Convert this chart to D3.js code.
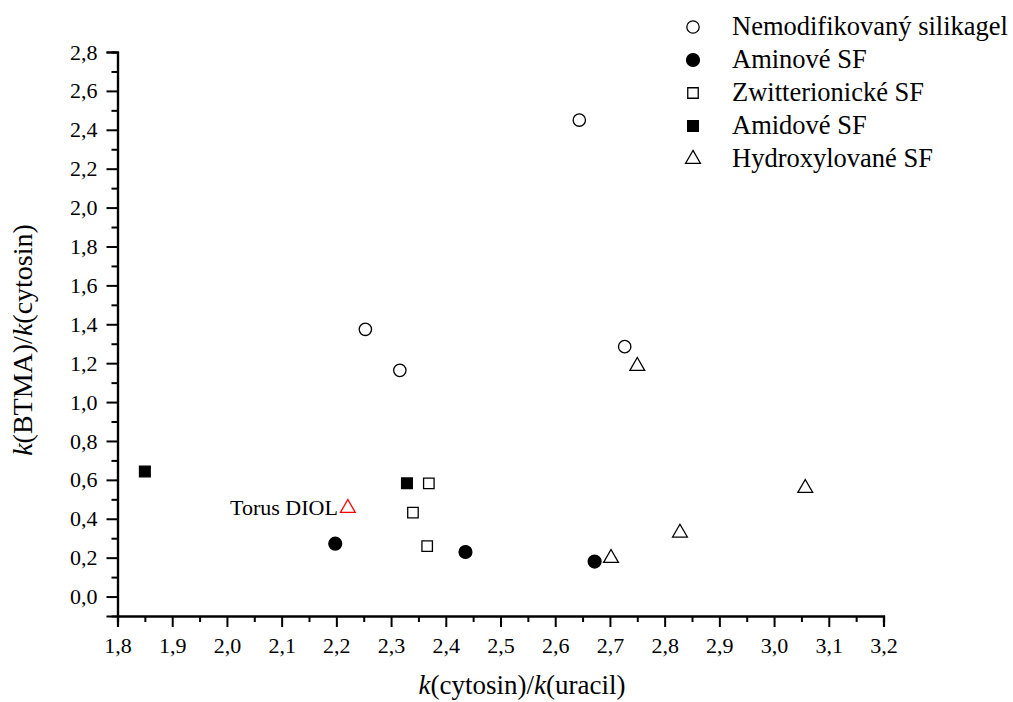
<!DOCTYPE html>
<html>
<head>
<meta charset="utf-8">
<script src="https://cdn.jsdelivr.net/npm/d3@7.9.0/dist/d3.min.js"></script>
<style>
  body { margin: 0; background: #fff; }
  svg { display: block; }
  svg text { font-family: "Liberation Serif", "Times New Roman", serif !important; fill: #000; }
</style>
</head>
<body>
<svg id="chart" width="1013" height="702"></svg>
<script>
// ── data ────────────────────────────────────────────────────────────────────
const seriesNames = [
  'Nemodifikovaný silikagel',
  'Aminové SF',
  'Zwitterionické SF',
  'Amidové SF',
  'Hydroxylované SF',
];

// [k(cytosin)/k(uracil), k(BTMA)/k(cytosin)]
const nemodifikovany = [[2.253, 1.374], [2.316, 1.163], [2.644, 2.45], [2.727, 1.285]];
const aminove = [[2.198, 0.272], [2.436, 0.229], [2.672, 0.18]];
const zwitterionicke = [[2.369, 0.582], [2.340, 0.432], [2.366, 0.259]];
const amidove = [[1.850, 0.643], [2.329, 0.582]];
const hydroxylovane = [[2.750, 1.185], [3.057, 0.558], [2.828, 0.328], [2.702, 0.198]];
const torusDiol = [[2.221, 0.455]];

const xTicks = d3.range(18, 33).map((d) => d / 10);
const yTicks = d3.range(0, 29, 2).map((d) => d / 10);
const xMinor = d3.range(18, 32).map((d) => d / 10 + 0.05);
const yMinor = d3.range(1, 29, 2).map((d) => d / 10);

// ── setup ───────────────────────────────────────────────────────────────────
const svg = d3.select('#chart');
const x = d3.scaleLinear().domain([1.8, 3.2]).range([117.5, 883.5]);
const y = d3.scaleLinear().domain([-0.1, 2.8]).range([616, 52]);
const fmt = (d) => d.toFixed(1).replace('.', ',');

// minor ticks (own groups, so the major axis call does not remove them)
svg.append('g').attr('transform', `translate(0,${y(-0.1)})`)
  .call(d3.axisBottom(x).tickValues(xMinor).tickSize(6).tickFormat(''));
svg.append('g').attr('transform', `translate(${x(1.8)},0)`)
  .call(d3.axisLeft(y).tickValues(yMinor).tickSize(6).tickFormat(''));

svg.append('g').attr('transform', `translate(0,${y(-0.1)})`)
  .call(d3.axisBottom(x).tickValues(xTicks).tickSize(11).tickPadding(10).tickFormat(fmt));
svg.append('g').attr('transform', `translate(${x(1.8)},0)`)
  .call(d3.axisLeft(y).tickValues(yTicks).tickSize(11).tickPadding(9).tickFormat(fmt));

svg.selectAll('.domain').attr('stroke', '#000').attr('stroke-width', 2.2);
svg.selectAll('.tick line').attr('stroke', '#000').attr('stroke-width', 2);
svg.selectAll('.tick text').style('font-size', '22px');

// axis titles
const xTitle = svg.append('text')
  .attr('x', 522).attr('y', 694)
  .attr('text-anchor', 'middle')
  .style('font-size', '27px');
xTitle.append('tspan').attr('font-style', 'italic').text('k');
xTitle.append('tspan').text('(cytosin)/');
xTitle.append('tspan').attr('font-style', 'italic').text('k');
xTitle.append('tspan').text('(uracil)');

const yTitle = svg.append('text')
  .attr('transform', 'translate(32,340) rotate(-90)')
  .attr('text-anchor', 'middle')
  .style('font-size', '28px');
yTitle.append('tspan').attr('font-style', 'italic').text('k');
yTitle.append('tspan').text('(BTMA)/');
yTitle.append('tspan').attr('font-style', 'italic').text('k');
yTitle.append('tspan').text('(cytosin)');

// ── markers ─────────────────────────────────────────────────────────────────
const styles = [
  { type: d3.symbolCircle, size: 120, fill: 'none', stroke: '#000' },
  { type: d3.symbolCircle, size: 130, fill: '#000', stroke: '#000' },
  { type: d3.symbolSquare, size: 110, fill: 'none', stroke: '#000' },
  { type: d3.symbolSquare, size: 115, fill: '#000', stroke: '#000' },
  { type: d3.symbolTriangle, size: 95, fill: 'none', stroke: '#000' },
];
const allSeries = [nemodifikovany, aminove, zwitterionicke, amidove, hydroxylovane];

allSeries.forEach((pts, i) => {
  const s = styles[i];
  svg.append('g').selectAll('path')
    .data(pts)
    .join('path')
    .attr('transform', (d) => `translate(${x(d[0])},${y(d[1])})`)
    .attr('d', d3.symbol(s.type, s.size))
    .attr('fill', s.fill)
    .attr('stroke', s.stroke)
    .attr('stroke-width', 1.3);
});

// Torus DIOL - red triangle with label
svg.append('g').selectAll('path')
  .data(torusDiol)
  .join('path')
  .attr('transform', (d) => `translate(${x(d[0])},${y(d[1])})`)
  .attr('d', d3.symbol(d3.symbolTriangle, 95))
  .attr('fill', 'none')
  .attr('stroke', '#ff0000')
  .attr('stroke-width', 1.3);

svg.append('text')
  .attr('x', x(torusDiol[0][0]) - 10)
  .attr('y', y(torusDiol[0][1]) + 7)
  .attr('text-anchor', 'end')
  .style('font-size', '22px')
  .text('Torus DIOL');

// ── legend ──────────────────────────────────────────────────────────────────
const legend = svg.append('g').attr('transform', 'translate(693,27)');
seriesNames.forEach((name, i) => {
  const s = styles[i];
  const row = legend.append('g').attr('transform', `translate(0,${i * 33})`);
  row.append('path')
    .attr('d', d3.symbol(s.type, s.size))
    .attr('fill', s.fill)
    .attr('stroke', s.stroke)
    .attr('stroke-width', 1.3);
  row.append('text')
    .attr('x', 39).attr('y', 8)
    .style('font-size', '26.5px')
    .text(name);
});
</script>
</body>
</html>
